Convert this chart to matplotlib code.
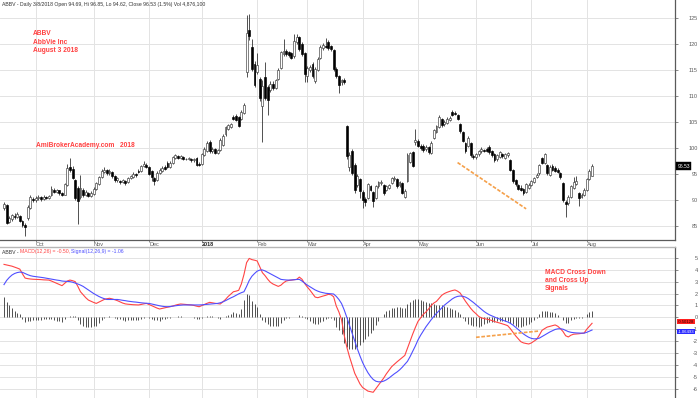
import numpy as np
import matplotlib
matplotlib.use("Agg")
import matplotlib.pyplot as plt
from matplotlib.transforms import blended_transform_factory

plt.rcParams['font.family'] = ['Liberation Sans', 'DejaVu Sans']

# ---------------- data ----------------
ticker = "ABBV"
company = "AbbVie Inc"
last_date = "3/8/2018"
volume = "4,876,100"
change_pct = "1.5%"

month_pos = [12, 34, 55, 75, 96, 115, 136, 157, 179, 200, 221]
month_labels = ['Oct', 'Nov', 'Dec', '2018', 'Feb', 'Mar', 'Apr', 'May', 'Jun', 'Jul', 'Aug']
price_ticks = [85, 90, 95, 100, 105, 110, 115, 120, 125]
macd_ticks = [-6, -5, -4, -3, -2, -1, 0, 1, 2, 3, 4, 5]

opens = [
    88.4, 89.0, 85.8, 86.3, 87.0, 86.8, 87.0, 86.0, 85.2, 86.5, 88.4, 90.2,
    90.0, 90.3, 90.5, 90.2, 90.6, 90.4, 91.0, 92.0, 91.6, 91.9, 91.3, 91.0,
    92.8, 96.4, 96.0, 93.8, 92.4, 90.6, 92.0, 91.0, 91.4, 90.8, 91.2, 92.2,
    93.0, 94.4, 95.4, 95.8, 95.2, 95.4, 94.6, 93.8, 93.6, 93.4, 93.6, 93.4,
    94.2, 94.4, 95.0, 95.6, 95.6, 96.6, 96.8, 96.4, 95.6, 94.2, 93.8, 95.2,
    95.6, 96.4, 97.2, 96.4, 97.2, 98.0, 98.4, 98.0, 98.2, 97.8, 97.8, 97.9,
    97.6, 98.0, 97.0, 97.0, 98.6, 99.4, 101.2, 99.4, 99.8, 99.0, 99.6, 100.6,
    102.6, 103.6, 104.0, 106.0, 106.2, 106.0, 105.6, 106.8, 114.7, 122.6, 119.4, 116.2,
    114.7, 113.2, 108.0, 113.6, 111.8, 111.2, 112.4, 111.6, 113.2, 115.4, 118.0, 118.6,
    118.4, 118.2, 117.6, 120.4, 121.4, 120.0, 118.2, 113.8, 115.0, 116.2, 112.8, 115.0,
    117.4, 119.2, 119.6, 120.4, 119.6, 118.8, 115.2, 113.8, 112.6, 113.0, 104.2, 96.4,
    99.4, 96.8, 92.8, 94.0, 91.6, 90.2, 90.4, 92.6, 91.6, 90.4, 92.6, 93.2,
    92.9, 92.0, 92.4, 93.2, 94.0, 94.0, 92.8, 93.2, 90.6, 93.6, 97.4, 99.2,
    101.2, 101.4, 100.4, 100.4, 99.8, 100.2, 99.0, 102.0, 103.0, 104.0, 105.6, 104.6,
    104.8, 105.4, 107.0, 106.8, 106.4, 104.6, 103.0, 101.0, 100.4, 101.0, 98.4, 98.2,
    98.8, 99.4, 99.7, 99.8, 100.2, 99.4, 98.8, 97.8, 98.2, 98.8, 98.0, 98.6,
    97.6, 95.8, 93.8, 92.8, 92.4, 92.2, 91.5, 92.4, 92.8, 93.4, 94.4, 95.1,
    98.0, 97.1, 96.8, 94.8, 96.6, 96.2, 95.8, 95.2, 93.2, 89.6, 89.4, 90.6,
    92.4, 93.0, 91.4, 90.6, 91.0, 92.0, 94.0, 94.69]

closes = [
    89.2, 85.6, 86.6, 87.2, 86.8, 87.3, 86.0, 85.2, 84.8, 88.7, 90.6, 90.0,
    90.3, 90.5, 90.2, 90.6, 90.4, 90.8, 92.2, 91.6, 91.9, 91.3, 91.0, 93.0,
    96.2, 95.8, 94.2, 90.4, 89.8, 92.4, 91.0, 91.6, 90.8, 91.4, 92.2, 93.2,
    94.4, 95.6, 95.8, 95.2, 95.6, 94.6, 93.8, 94.2, 93.4, 93.8, 93.2, 94.2,
    94.6, 95.0, 94.8, 95.4, 96.6, 97.0, 96.4, 95.0, 94.4, 93.6, 95.2, 95.8,
    96.2, 96.0, 96.4, 97.2, 98.2, 98.6, 98.0, 98.4, 97.8, 97.9, 98.0, 97.6,
    97.9, 96.8, 96.7, 98.8, 99.8, 101.0, 99.4, 99.8, 99.0, 99.6, 101.6, 102.4,
    104.0, 104.4, 104.6, 105.6, 105.4, 104.2, 107.0, 108.3, 122.2, 121.6, 115.2, 112.2,
    116.0, 109.6, 112.0, 109.6, 109.2, 112.4, 111.6, 113.0, 115.0, 118.4, 118.6, 118.0,
    117.8, 117.4, 120.6, 121.4, 119.0, 118.0, 114.2, 115.4, 115.6, 113.8, 115.2, 117.2,
    119.4, 119.8, 119.4, 119.2, 119.0, 115.2, 113.8, 112.2, 113.0, 112.6, 98.4, 98.6,
    95.2, 92.0, 94.6, 91.8, 90.0, 89.6, 93.0, 92.0, 89.8, 92.6, 93.4, 93.5,
    91.3, 92.6, 92.8, 94.2, 94.2, 92.6, 93.4, 91.4, 91.8, 98.6, 99.0, 96.6,
    101.6, 100.4, 100.0, 99.6, 100.2, 99.2, 101.0, 103.4, 104.2, 106.0, 104.4, 105.0,
    105.6, 105.8, 106.4, 106.6, 105.6, 103.2, 101.4, 99.4, 102.0, 98.6, 98.2, 98.8,
    99.4, 99.8, 99.5, 99.4, 99.2, 98.6, 97.6, 98.6, 99.2, 98.4, 98.8, 99.0,
    95.8, 93.6, 93.0, 92.2, 92.0, 91.3, 93.0, 92.9, 93.6, 94.2, 94.9, 96.7,
    97.1, 98.8, 95.2, 96.4, 95.8, 95.6, 95.4, 94.4, 90.0, 89.2, 90.6, 92.6,
    93.4, 93.6, 90.4, 91.0, 92.0, 94.0, 95.6, 96.53]

highs = [
    89.6, 89.3, 86.9, 87.4, 87.5, 87.6, 87.2, 86.2, 85.6, 89.0, 91.0, 90.6,
    90.8, 90.9, 90.7, 90.9, 90.8, 91.0, 92.6, 92.3, 92.1, 92.0, 91.5, 93.3,
    97.0, 98.0, 96.5, 94.0, 92.6, 94.8, 92.4, 91.9, 91.6, 91.7, 92.5, 93.5,
    94.7, 96.0, 96.3, 96.0, 95.9, 95.6, 94.8, 94.5, 93.9, 94.1, 93.8, 94.4,
    94.9, 95.3, 95.2, 95.9, 96.8, 97.5, 97.1, 96.6, 95.8, 94.4, 95.5, 96.1,
    96.5, 96.7, 97.5, 97.5, 98.5, 98.9, 98.7, 98.6, 98.4, 98.1, 98.2, 98.1,
    98.1, 98.2, 97.3, 99.0, 100.1, 101.3, 101.5, 100.1, 100.0, 99.9, 101.9, 102.7,
    104.3, 104.7, 104.9, 106.4, 106.5, 106.2, 107.3, 108.6, 125.6, 125.8, 121.0, 116.8,
    118.3, 113.6, 113.0, 116.6, 112.2, 112.8, 112.9, 113.3, 115.3, 118.7, 121.0, 119.0,
    118.7, 118.5, 122.0, 122.0, 121.6, 120.3, 118.5, 115.7, 116.0, 116.5, 115.5, 117.5,
    119.8, 120.2, 121.2, 120.7, 119.9, 119.0, 115.5, 114.0, 113.3, 113.4, 104.4, 99.2,
    99.8, 97.1, 95.0, 94.2, 91.9, 90.6, 93.3, 92.9, 91.8, 92.9, 93.7, 93.9,
    93.1, 92.9, 93.1, 94.5, 94.6, 94.3, 93.7, 93.4, 92.1, 99.0, 99.3, 99.4,
    103.6, 101.7, 100.7, 100.7, 100.5, 100.4, 101.3, 103.7, 104.5, 106.3, 105.8, 105.3,
    105.9, 106.1, 107.4, 107.1, 106.6, 104.8, 103.2, 101.2, 102.3, 101.2, 98.8, 99.1,
    99.7, 100.1, 99.9, 100.1, 100.5, 99.6, 99.0, 98.9, 99.5, 99.0, 99.1, 99.3,
    97.8, 96.0, 94.0, 93.1, 92.8, 92.4, 93.3, 93.2, 93.9, 94.5, 95.2, 97.0,
    98.3, 99.0, 97.0, 96.7, 96.9, 96.5, 96.1, 95.4, 93.4, 90.0, 90.9, 92.9,
    94.5, 94.6, 91.6, 91.3, 92.3, 94.3, 95.9, 96.85]

lows = [
    88.0, 85.4, 85.5, 86.0, 86.4, 86.5, 85.8, 84.8, 83.0, 86.2, 88.2, 89.6,
    89.7, 90.0, 89.9, 90.0, 90.1, 90.2, 90.8, 91.3, 91.3, 91.0, 90.7, 90.9,
    92.6, 95.4, 94.0, 90.0, 85.4, 90.2, 90.6, 90.7, 90.5, 90.6, 91.0, 92.0,
    92.8, 94.2, 95.1, 94.9, 94.9, 94.3, 93.5, 93.5, 93.1, 93.2, 92.9, 93.2,
    94.0, 94.2, 94.5, 95.1, 95.4, 96.3, 96.1, 94.8, 93.6, 92.9, 93.6, 95.0,
    95.4, 95.8, 96.2, 96.2, 97.0, 97.8, 97.8, 97.8, 97.6, 97.6, 97.6, 97.4,
    97.4, 96.6, 96.5, 96.8, 98.4, 99.2, 99.1, 99.1, 98.8, 98.8, 99.4, 100.4,
    102.4, 103.4, 103.8, 105.3, 105.1, 104.0, 105.4, 106.6, 113.6, 120.8, 114.8, 111.8,
    114.2, 109.0, 101.2, 109.2, 106.3, 110.8, 111.2, 111.4, 113.0, 115.2, 117.6, 117.7,
    117.5, 117.1, 117.4, 120.0, 118.7, 117.7, 112.6, 112.6, 114.6, 113.5, 112.5, 114.8,
    117.2, 118.9, 119.2, 118.9, 118.6, 114.9, 113.5, 110.6, 112.2, 112.3, 97.8, 95.6,
    94.9, 91.4, 92.5, 90.3, 88.4, 88.8, 90.1, 91.7, 88.7, 90.1, 92.3, 92.9,
    91.0, 91.8, 92.1, 93.0, 93.7, 92.4, 92.5, 91.1, 90.3, 93.4, 97.1, 96.3,
    100.6, 100.1, 99.7, 99.3, 99.5, 98.9, 98.8, 101.8, 102.8, 103.8, 104.1, 104.3,
    104.6, 105.2, 106.2, 106.3, 105.3, 102.9, 101.1, 99.1, 100.2, 98.3, 97.9, 97.9,
    98.5, 99.1, 99.3, 99.2, 98.9, 98.3, 97.3, 97.5, 98.0, 98.1, 97.8, 98.3,
    95.5, 93.3, 92.6, 91.9, 91.7, 91.0, 91.3, 92.1, 92.6, 93.2, 94.2, 94.9,
    96.9, 96.9, 94.9, 94.6, 95.5, 95.3, 95.1, 94.1, 89.6, 86.8, 89.1, 90.4,
    92.2, 92.8, 88.8, 90.3, 90.8, 91.8, 93.8, 94.62]

macd_line = [
    4.45, 4.40, 4.35, 4.30, 4.22, 4.14, 4.05, 3.65, 3.30, 3.25, 3.22, 3.20,
    3.19, 3.18, 3.17, 3.15, 3.14, 3.13, 3.05, 2.95, 2.85, 2.75, 2.66, 2.85,
    3.05, 3.13, 3.08, 3.00, 2.60, 2.15, 1.90, 1.65, 1.45, 1.35, 1.25, 1.17,
    1.28, 1.40, 1.50, 1.56, 1.60, 1.55, 1.48, 1.40, 1.30, 1.20, 1.13, 1.10,
    1.08, 1.06, 1.05, 1.04, 1.08, 1.13, 1.17, 1.08, 0.98, 0.88, 0.78, 0.70,
    0.75, 0.80, 0.85, 0.89, 0.95, 1.02, 1.08, 1.12, 1.10, 1.08, 1.06, 1.04,
    1.00, 0.94, 0.89, 0.98, 1.08, 1.18, 1.26, 1.22, 1.18, 1.15, 1.12, 1.30,
    1.50, 1.75, 1.95, 2.15, 2.20, 2.27, 2.80, 3.60, 4.60, 4.95, 4.85, 4.80,
    4.74, 4.25, 3.75, 3.50, 3.20, 2.95, 2.80, 2.70, 2.60, 2.70, 2.90, 3.05,
    3.10, 3.13, 3.16, 3.19, 3.38, 3.20, 2.85, 2.55, 2.29, 2.00, 1.70, 1.65,
    1.72, 1.79, 1.85, 1.93, 1.90, 1.73, 0.95, 0.45, -0.20, -1.50, -2.50, -3.30,
    -4.00, -4.70, -5.15, -5.60, -5.90, -6.05, -6.20, -6.25, -6.30, -6.00, -5.70, -5.40,
    -5.10, -4.75, -4.45, -4.15, -3.95, -3.75, -3.57, -3.40, -3.20, -2.60, -2.00, -1.40,
    -0.85, -0.34, -0.05, 0.25, 0.45, 0.70, 1.00, 1.20, 1.34, 1.60, 1.85, 2.00,
    2.10, 2.18, 2.25, 2.30, 2.20, 2.04, 1.70, 1.35, 1.05, 0.75, 0.50, 0.30,
    0.08, -0.05, -0.10, -0.15, -0.20, -0.27, -0.35, -0.42, -0.48, -0.55, -0.62, -0.70,
    -0.95, -1.25, -1.55, -1.80, -2.05, -2.15, -2.20, -2.24, -2.15, -2.00, -1.85, -1.50,
    -1.10, -0.95, -0.82, -0.76, -0.70, -0.64, -0.75, -0.95, -1.20, -1.55, -1.65, -1.50,
    -1.42, -1.40, -1.38, -1.35, -1.32, -1.00, -0.75, -0.50128]

signal_line = [
    2.75, 3.10, 3.35, 3.55, 3.68, 3.76, 3.80, 3.78, 3.68, 3.58, 3.50, 3.45,
    3.42, 3.39, 3.36, 3.33, 3.29, 3.25, 3.21, 3.17, 3.13, 3.10, 3.05, 3.03,
    3.02, 3.00, 2.95, 2.88, 2.80, 2.71, 2.60, 2.45, 2.30, 2.15, 2.00, 1.87,
    1.75, 1.65, 1.57, 1.50, 1.50, 1.50, 1.50, 1.50, 1.47, 1.43, 1.40, 1.36,
    1.33, 1.30, 1.28, 1.25, 1.22, 1.20, 1.18, 1.17, 1.12, 1.07, 1.02, 0.97,
    0.93, 0.90, 0.89, 0.91, 0.94, 0.97, 1.00, 1.02, 1.04, 1.04, 1.04, 1.04,
    1.04, 1.04, 1.04, 1.05, 1.07, 1.09, 1.11, 1.13, 1.15, 1.17, 1.22, 1.30,
    1.40, 1.52, 1.63, 1.73, 1.85, 1.97, 2.07, 2.15, 2.60, 3.10, 3.45, 3.68,
    3.88, 3.97, 3.98, 3.90, 3.78, 3.66, 3.53, 3.42, 3.30, 3.19, 3.16, 3.14,
    3.13, 3.14, 3.16, 3.18, 3.19, 3.05, 2.88, 2.71, 2.57, 2.44, 2.30, 2.20,
    2.12, 2.07, 2.02, 2.00, 1.98, 1.96, 1.76, 1.50, 1.16, 0.63, 0.00, -0.66,
    -1.33, -2.00, -2.65, -3.25, -3.80, -4.25, -4.65, -4.97, -5.22, -5.37, -5.42, -5.42,
    -5.36, -5.25, -5.10, -4.92, -4.75, -4.60, -4.42, -4.20, -3.95, -3.70, -3.30, -2.85,
    -2.40, -1.90, -1.50, -1.15, -0.80, -0.50, -0.20, 0.08, 0.33, 0.56, 0.80, 1.02,
    1.20, 1.38, 1.55, 1.68, 1.76, 1.79, 1.77, 1.70, 1.58, 1.42, 1.25, 1.06,
    0.87, 0.68, 0.50, 0.35, 0.22, 0.12, 0.02, -0.07, -0.15, -0.23, -0.31, -0.39,
    -0.50, -0.65, -0.83, -1.02, -1.22, -1.40, -1.55, -1.68, -1.77, -1.81, -1.80, -1.75,
    -1.62, -1.48, -1.35, -1.23, -1.12, -1.02, -0.97, -0.96, -1.00, -1.10, -1.20, -1.26,
    -1.29, -1.31, -1.32, -1.33, -1.33, -1.26, -1.16, -1.06493]

# hand-drawn trend annotations (bar index, value)
price_trend_x = [172, 198]
price_trend_y = [97.2, 88.3]
macd_trend_x = [179, 203]
macd_trend_y = [-1.68, -1.15]

# ---------------- figure ----------------
W, H = 700, 398
fig = plt.figure(figsize=(W / 100, H / 100), dpi=100)
fig.patch.set_facecolor('white')

def fy(py):
    return 1 - py / H

AX_R = 675 / W
ax = fig.add_axes([0, fy(240), AX_R, 240 / H])
ax2 = fig.add_axes([0, 0, AX_R, 151 / H])

x = np.arange(len(closes))
o = np.array(opens); c = np.array(closes)
h = np.array(highs); l = np.array(lows)
m = np.array(macd_line); s = np.array(signal_line)
hist = m - s

px_per_bar = 2.637
xlim = (-4 / px_per_bar, (675 - 4) / px_per_bar)

GRID = '#e3e3e3'
AXC = '#5a5a5a'
RED = '#ff4444'
BLUE = '#4f4fff'

for a in (ax, ax2):
    a.set_xlim(*xlim)
    a.set_facecolor('white')
    a.set_xticks(month_pos)
    a.grid(True, color=GRID, lw=0.7, zorder=0)
    a.set_axisbelow(True)
    a.spines['left'].set_visible(False)
    a.spines['right'].set_color(AXC)
    a.spines['right'].set_linewidth(0.9)
    a.yaxis.tick_right()
    a.tick_params(axis='y', direction='out', length=2, width=0.5, colors=AXC,
                  labelsize=4, pad=14.5)

# price panel
ax.set_ylim(125 - (240 - 18) / 5.2, 125 + 18 / 5.2)
ax.set_yticks(price_ticks)
ax.set_yticklabels([str(v) for v in price_ticks])
for t in ax.get_yticklabels():
    t.set_ha('right')
ax.spines['top'].set_visible(False)
ax.spines['bottom'].set_color(AXC)
ax.spines['bottom'].set_linewidth(0.9)
ax.set_xticklabels(month_labels)
ax.tick_params(axis='x', direction='out', length=1.5, width=0.5, colors=AXC,
               labelsize=4, pad=0.3)
for t in ax.get_xticklabels():
    t.set_ha('left')
    if t.get_text() == '2018':
        t.set_fontweight('bold')
        t.set_color('#222222')

up = c >= o
body_lo = np.minimum(o, c)
body_h = np.maximum(np.abs(c - o), 0.12)
ax.vlines(x, l, h, color='#222222', lw=0.55, zorder=2)
ax.bar(x[up], body_h[up], bottom=body_lo[up], width=0.72, color='white',
       edgecolor='#3a3a3a', linewidth=0.45, zorder=3)
ax.bar(x[~up], body_h[~up], bottom=body_lo[~up], width=0.72, color='black',
       edgecolor='black', linewidth=0.45, zorder=3)

ax.plot(price_trend_x, price_trend_y, color='#f5a04a', lw=1.2,
        linestyle=(0, (2.2, 1.0)), zorder=4)

tr = blended_transform_factory(ax.transAxes, ax.transData)
ax.text(1.004, c[-1], f"{c[-1]:.2f}", transform=tr, fontsize=3.6, color='white',
        va='center', ha='left', clip_on=False, zorder=6,
        bbox=dict(boxstyle='square,pad=0.25', fc='black', ec='black', lw=0.3))

# MACD panel
ax2.set_ylim(-6.78, 5.91)
ax2.set_yticks(macd_ticks)
ax2.set_yticklabels([str(v) for v in macd_ticks])
for t in ax2.get_yticklabels():
    t.set_ha('right')
ax2.spines['bottom'].set_visible(False)
ax2.spines['top'].set_color('#b5b5b5')
ax2.spines['top'].set_linewidth(1.0)
ax2.tick_params(axis='x', length=0, labelbottom=False)

ax2.vlines(x, 0, hist, color='#333333', lw=0.6, zorder=2)
ax2.plot(x, m, color=RED, lw=0.8, zorder=3)
ax2.plot(x, s, color=BLUE, lw=0.8, zorder=3)
ax2.plot(macd_trend_x, macd_trend_y, color='#f5a04a', lw=1.2,
         linestyle=(0, (2.2, 1.0)), zorder=4)

tr2 = blended_transform_factory(ax2.transAxes, ax2.transData)
ax2.text(1.004, m[-1] + 0.14, f"{m[-1]:.5f}", transform=tr2, fontsize=3.1, color='#300000',
         va='center', ha='left', clip_on=False, zorder=6,
         bbox=dict(boxstyle='square,pad=0.12', fc='#ff2020', ec='none'))
ax2.text(1.004, s[-1] - 0.16, f"{s[-1]:.5f}", transform=tr2, fontsize=3.1, color='white',
         va='center', ha='left', clip_on=False, zorder=6,
         bbox=dict(boxstyle='square,pad=0.12', fc='#2a2aff', ec='none'))

# ---------------- texts ----------------
title = (f"{ticker} - Daily {last_date} Open {o[-1]:.2f}, Hi {h[-1]:.2f}, "
         f"Lo {l[-1]:.2f}, Close {c[-1]:.2f} ({change_pct}) Vol {volume}")
fig.text(2 / W, fy(4.5), title, fontsize=3.7, color='#333333', va='center', ha='left')

t1 = fig.text(2 / W, fy(252), f"{ticker} - ", fontsize=3.7, color='#333333',
              va='center', ha='left')
t2 = fig.text(0, 0, f"MACD(12,26) = {m[-1]:.2f}, ", fontsize=3.7, color=RED)
t3 = fig.text(0, 0, f"Signal(12,26,9) = {s[-1]:.2f}", fontsize=3.7, color=BLUE)
fig.canvas.draw()
r = fig.canvas.get_renderer()
bb = t1.get_window_extent(r)
t2.set_position((bb.x1 / fig.bbox.width, fy(252)))
t2.set_va('center')
bb2 = t2.get_window_extent(r)
t3.set_position((bb2.x1 / fig.bbox.width, fy(252)))
t3.set_va('center')

ann = dict(color='#ff4040', fontweight='bold', ha='left', va='center')
fig.text(33 / W, fy(33.5), ticker, fontsize=4.8, **ann)
fig.text(33 / W, fy(42), company, fontsize=4.8, **ann)
fig.text(33 / W, fy(50.5), "August 3 2018", fontsize=4.8, **ann)
fig.text(36 / W, fy(146), "AmiBrokerAcademy.com   2018", fontsize=4.8, **ann)
fig.text(545 / W, fy(272), "MACD Cross Down", fontsize=4.8, **ann)
fig.text(545 / W, fy(280), "and Cross Up", fontsize=4.8, **ann)
fig.text(545 / W, fy(288), "Signals", fontsize=4.8, **ann)

fig.savefig("out.png", dpi=100, facecolor='white')
